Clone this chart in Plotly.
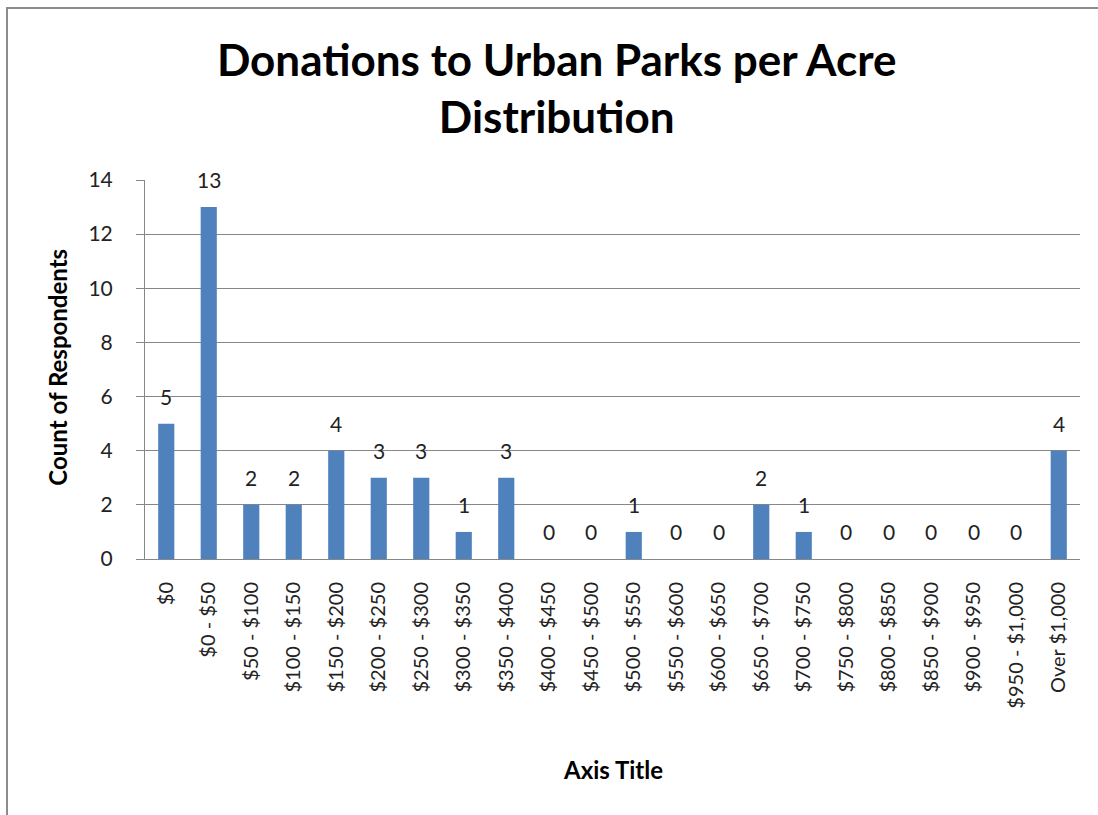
import plotly.graph_objects as go

categories = ["$0", "$0 - $50", "$50 - $100", "$100 - $150", "$150 - $200", "$200 - $250",
              "$250 - $300", "$300 - $350", "$350 - $400", "$400 - $450", "$450 - $500",
              "$500 - $550", "$550 - $600", "$600 - $650", "$650 - $700", "$700 - $750",
              "$750 - $800", "$800 - $850", "$850 - $900", "$900 - $950", "$950 - $1,000",
              "Over $1,000"]
counts = [5, 13, 2, 2, 4, 3, 3, 1, 3, 0, 0, 1, 0, 0, 2, 1, 0, 0, 0, 0, 0, 4]

font_family = "Lato, 'Open Sans', sans-serif"
grey = "#878787"

fig = go.Figure()
fig.add_trace(go.Bar(
    x=categories, y=counts,
    marker=dict(color="#4F81BD", line=dict(width=0)),
))

# data labels sit a bit higher above the bars than plotly's default "outside" text
for c, v in zip(categories, counts):
    fig.add_annotation(x=c, y=v, text=str(v), showarrow=False,
                       yanchor="bottom", yshift=13,
                       font=dict(size=21, color="#222"))

fig.add_annotation(text="<b>Count of Respondents</b>", xref="paper", yref="paper",
                   x=-0.093, y=0.505, xanchor="center", yanchor="middle",
                   textangle=-90, showarrow=False,
                   font=dict(size=24, color="black"))
fig.add_annotation(text="<b>Axis Title</b>", xref="paper", yref="paper",
                   x=0.5, y=-0.556, xanchor="center", yanchor="middle",
                   showarrow=False,
                   font=dict(size=24, color="black"))

fig.update_layout(
    width=1098, height=815,
    paper_bgcolor="white", plot_bgcolor="white",
    margin=dict(l=145, r=18, t=180, b=256),
    bargap=0.62,
    showlegend=False,
    font=dict(family=font_family, color="#222"),
    title=dict(
        text="<b>Donations to Urban Parks per Acre<br>Distribution</b>",
        x=0.507, xanchor="center", xref="container",
        y=0.907, yanchor="top", yref="container",
        font=dict(size=44, color="black"),
    ),
    xaxis=dict(
        tickangle=-90, tickfont=dict(size=20), showgrid=False,
        showline=True, linecolor=grey, linewidth=1, ticks="",
        ticklabelstandoff=14, automargin=False,
    ),
    yaxis=dict(
        range=[0, 14], dtick=2, tickfont=dict(size=21),
        showgrid=True, gridcolor=grey, gridwidth=1,
        showline=True, linecolor=grey, linewidth=1,
        ticks="outside", ticklen=8, tickcolor=grey,
        ticklabelstandoff=19, zeroline=False, automargin=False,
    ),
    shapes=[dict(type="rect", xref="paper", yref="paper",
                 x0=-0.1476, x1=1.2, y0=-1.2, y1=1.4538,
                 line=dict(color="#8c8c8c", width=2), layer="below")],
)

fig.write_html("out.html", config={"displayModeBar": False},
               post_script="document.body.style.margin='0';")
